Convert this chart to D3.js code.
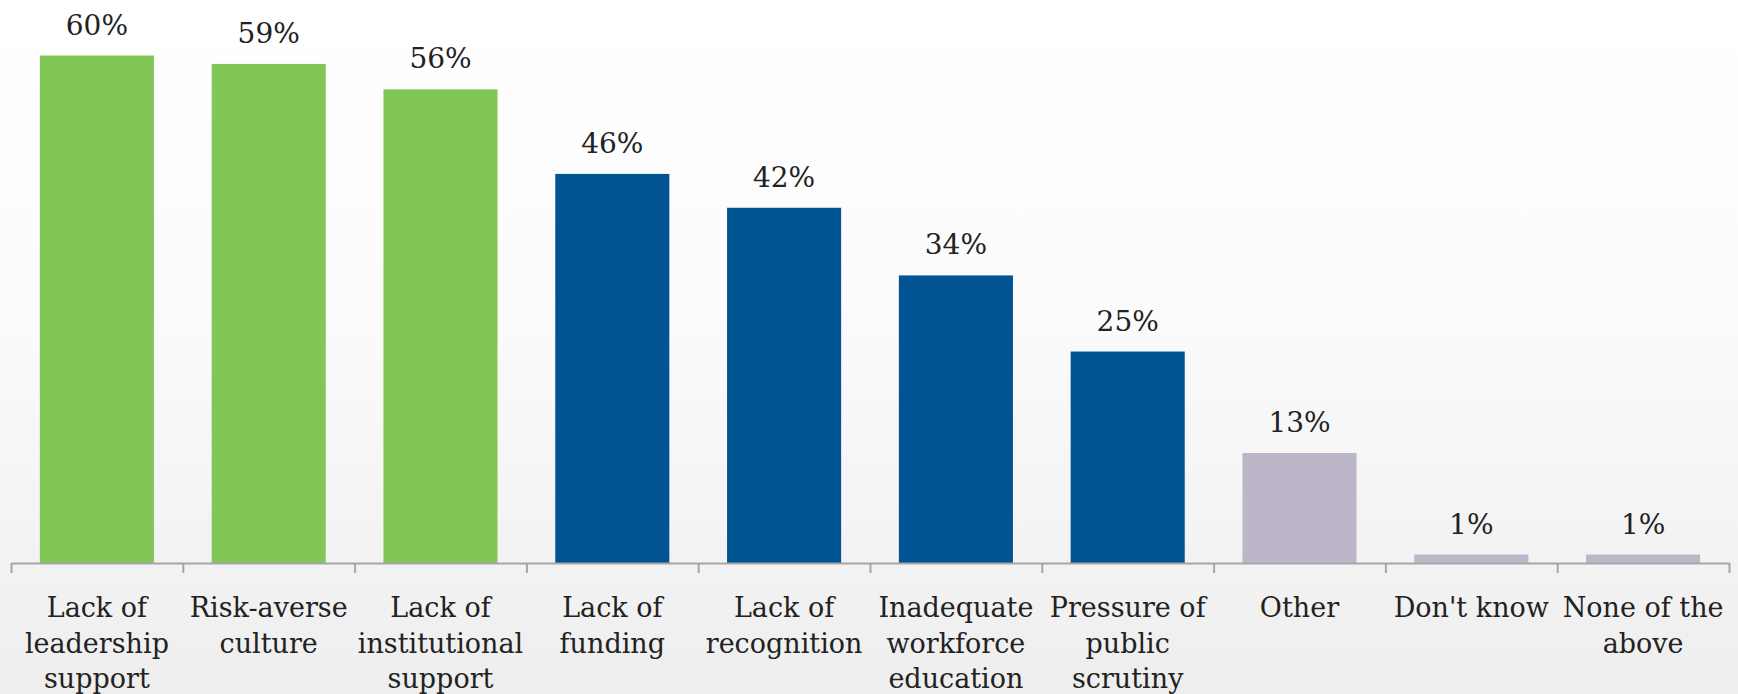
<!DOCTYPE html>
<html>
<head>
<meta charset="utf-8">
<script src="https://cdn.jsdelivr.net/npm/d3@7"></script>
<style>
  body { margin: 0; padding: 0; background: #fff; }
  svg { display: block; }
</style>
</head>
<body>
<div id="chart"></div>
<script>
// data
var categories = [
  "Lack of\nleadership\nsupport",
  "Risk-averse\nculture",
  "Lack of\ninstitutional\nsupport",
  "Lack of\nfunding",
  "Lack of\nrecognition",
  "Inadequate\nworkforce\neducation",
  "Pressure of\npublic\nscrutiny",
  "Other",
  "Don't know",
  "None of the\nabove"
];
var values = [60, 59, 56, 46, 42, 34, 25, 13, 1, 1];
var groups = ["culture", "culture", "culture", "resource", "resource", "resource", "resource", "none", "none", "none"];

var groupColors = { culture: "#82c755", resource: "#005494", none: "#bdb6c9" };

var W = 1738, H = 694;
var axisY = 563, left = 11, right = 1729;
var serif = "'DejaVu Serif', 'Liberation Serif', serif";

var svg = d3.select("#chart")
  .append("svg")
    .attr("width", W)
    .attr("height", H);

// soft grey background fading downwards
var grad = svg.append("defs").append("linearGradient")
    .attr("id", "bg")
    .attr("x1", 0).attr("y1", 0).attr("x2", 0).attr("y2", 1);
grad.append("stop").attr("offset", "0%").attr("stop-color", "#ffffff");
grad.append("stop").attr("offset", "45%").attr("stop-color", "#fbfbfb");
grad.append("stop").attr("offset", "100%").attr("stop-color", "#eeeeee");
svg.append("rect")
    .attr("width", W).attr("height", H)
    .attr("fill", "url(#bg)");

var x = d3.scaleBand()
    .domain(categories)
    .range([left, right])
    .paddingInner(0.336)
    .paddingOuter(0.168);

var y = d3.scaleLinear()
    .domain([0, 60])
    .range([axisY, 55.5]);

// bars
svg.append("g")
  .selectAll("rect")
  .data(categories)
  .enter().append("rect")
    .attr("x", function(d) { return x(d); })
    .attr("y", function(d, i) { return y(values[i]); })
    .attr("width", x.bandwidth())
    .attr("height", function(d, i) { return y(0) - y(values[i]); })
    .attr("fill", function(d, i) { return groupColors[groups[i]]; });

// value labels
svg.append("g")
  .selectAll("text")
  .data(categories)
  .enter().append("text")
    .attr("x", function(d) { return x(d) + x.bandwidth() / 2; })
    .attr("y", function(d, i) { return y(values[i]) - 21; })
    .attr("text-anchor", "middle")
    .style("font-family", serif)
    .style("font-size", "28px")
    .style("fill", "#222")
    .text(function(d, i) { return values[i] + "%"; });

// x axis with ticks between the categories
var edges = d3.scaleLinear()
    .domain([0, categories.length])
    .range([left, right]);
var axis = svg.append("g")
    .attr("transform", "translate(0," + axisY + ")")
    .call(d3.axisBottom(edges)
      .tickValues(d3.range(categories.length + 1))
      .tickFormat("")
      .tickSizeInner(10)
      .tickSizeOuter(0));
axis.select(".domain").attr("stroke", "#a6a6a6").attr("stroke-width", 2);
axis.selectAll(".tick line").attr("stroke", "#a6a6a6").attr("stroke-width", 2);

// category labels
var labels = svg.append("g")
  .selectAll("text")
  .data(categories)
  .enter().append("text")
    .attr("x", function(d) { return x(d) + x.bandwidth() / 2; })
    .attr("y", 617)
    .attr("text-anchor", "middle")
    .style("font-family", serif)
    .style("font-size", "27px")
    .style("fill", "#222");
labels.selectAll("tspan")
  .data(function(d) { return d.split("\n"); })
  .enter().append("tspan")
    .attr("x", function() { return d3.select(this.parentNode).attr("x"); })
    .attr("dy", function(d, i) { return i === 0 ? 0 : 35.5; })
    .text(function(d) { return d; });
</script>
</body>
</html>
